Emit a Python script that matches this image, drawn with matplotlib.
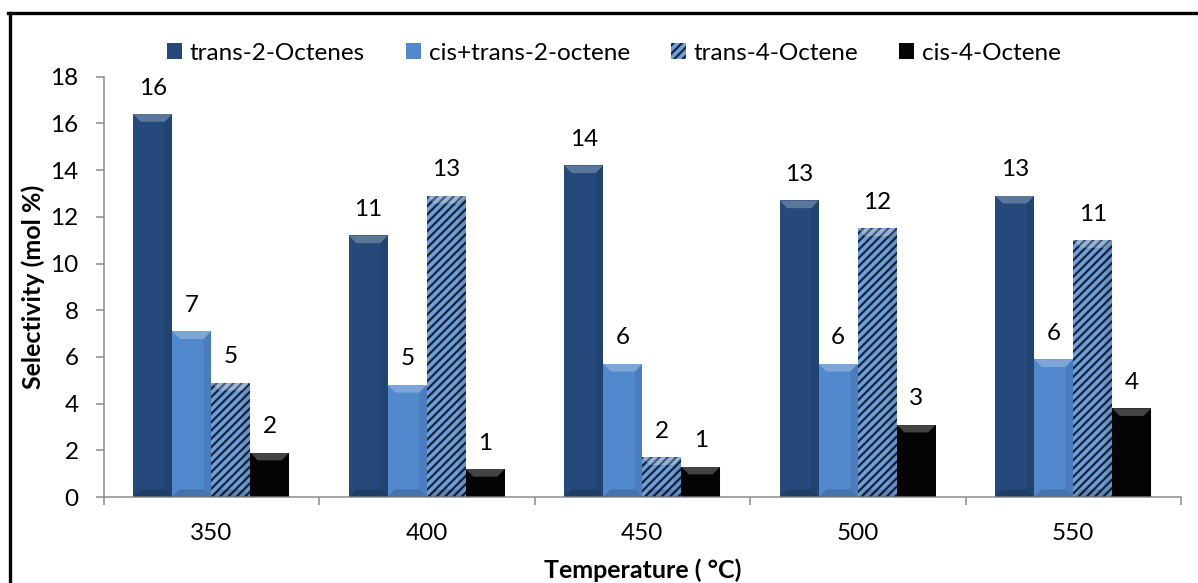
import numpy as np
import matplotlib
matplotlib.use("Agg")
import matplotlib.pyplot as plt
from matplotlib.patches import Polygon, Patch
from matplotlib.lines import Line2D

plt.rcParams['font.family'] = ['Lato', 'DejaVu Sans']
plt.rcParams['hatch.linewidth'] = 1.6

temperatures = ["350", "400", "450", "500", "550"]
series_names = ["trans-2-Octenes", "cis+trans-2-octene", "trans-4-Octene", "cis-4-Octene"]
trans_2_octenes = [16.4, 11.2, 14.2, 12.7, 12.9]
cis_trans_2_octene = [7.1, 4.8, 5.7, 5.7, 5.9]
trans_4_octene = [4.9, 12.9, 1.7, 11.5, 11.0]
cis_4_octene = [1.9, 1.2, 1.3, 3.1, 3.8]

faces = ["#24497a", "#5288cc", "#6f9fd8", "#050505"]
hatch_edges = ["#24497a", "#5288cc", "#15243a", "#050505"]
hatches = [None, None, "////", None]

FS = 17.5
W, H = 1198, 583
fig = plt.figure(figsize=(W / 100, H / 100), dpi=100)
ax = fig.add_axes([103.5 / W, 1 - 497 / H, (1181 - 103.5) / W, (497 - 76.7) / H])

x = np.arange(len(temperatures))
bw = 0.181
all_series = [trans_2_octenes, cis_trans_2_octene, trans_4_octene, cis_4_octene]

for i, vals in enumerate(all_series):
    pos = x + (i - 1.5) * bw
    bars = ax.bar(pos, vals, bw, color=faces[i], edgecolor=hatch_edges[i],
                  hatch=hatches[i], linewidth=0, zorder=2)
    for b, v in zip(bars, vals):
        x0, x1 = b.get_x(), b.get_x() + b.get_width()
        dx, dy = 0.035, 0.33
        # bevel: light strip on top, darker strip at the base
        ax.add_patch(Polygon([(x0, v), (x1, v), (x1 - dx, v - dy), (x0 + dx, v - dy)],
                             closed=True, facecolor="white", alpha=0.25, lw=0, zorder=3))
        ax.add_patch(Polygon([(x0, 0), (x1, 0), (x1 - dx, dy), (x0 + dx, dy)],
                             closed=True, facecolor="black", alpha=0.15, lw=0, zorder=3))
        ax.add_patch(Polygon([(x1, 0), (x1 - dx, dy), (x1 - dx, v - dy), (x1, v)],
                             closed=True, facecolor="black", alpha=0.08, lw=0, zorder=3))
        ax.annotate(f"{v:.0f}", xy=(b.get_x() + b.get_width() / 2, v), xytext=(0, 14),
                    textcoords="offset points", ha="center", va="baseline", fontsize=FS)

ax.set_xlim(-0.5, len(temperatures) - 0.5)
ax.set_ylim(0, 18)
ax.set_yticks(np.arange(0, 19, 2))
ax.set_xticks(x)
ax.set_xticklabels(temperatures)
ax.set_xticks(np.arange(-0.5, len(temperatures)), minor=True)

grey = "#8c8c8c"
for s in ["top", "right"]:
    ax.spines[s].set_visible(False)
for s in ["left", "bottom"]:
    ax.spines[s].set_color(grey)
    ax.spines[s].set_linewidth(1.1)
ax.tick_params(axis="y", length=6, width=1.1, color=grey, pad=12, labelsize=FS)
ax.tick_params(axis="x", which="major", length=0, pad=19, labelsize=FS)
ax.tick_params(axis="x", which="minor", length=6, width=1.1, color=grey)

ax.set_ylabel("Selectivity (mol %)", fontsize=18, fontweight="bold", va="center")
ax.set_xlabel("Temperature ( °C)", fontsize=18, fontweight="bold", va="center")
ax.yaxis.set_label_coords((33 - 103.5) / (1181 - 103.5), 0.5)
ax.xaxis.set_label_coords(0.5, (497 - 570) / (497 - 76.7))

handles = [Patch(facecolor=faces[i], edgecolor=hatch_edges[i], hatch=hatches[i], lw=0)
           for i in range(4)]
fig.legend(handles, series_names, loc="center", bbox_to_anchor=(614 / W, 1 - 53 / H),
           ncol=4, frameon=False, fontsize=FS, handlelength=0.62, handleheight=0.62,
           handletextpad=0.3, columnspacing=1.7)

# outer frame (top and left edges)
fig.add_artist(Line2D([8 / W, 1], [1 - 13 / H, 1 - 13 / H], color="black", lw=2.4,
                      transform=fig.transFigure))
fig.add_artist(Line2D([9.5 / W, 9.5 / W], [1 - 13 / H, 0], color="black", lw=2.4,
                      transform=fig.transFigure))

fig.savefig("out.png", dpi=100)
